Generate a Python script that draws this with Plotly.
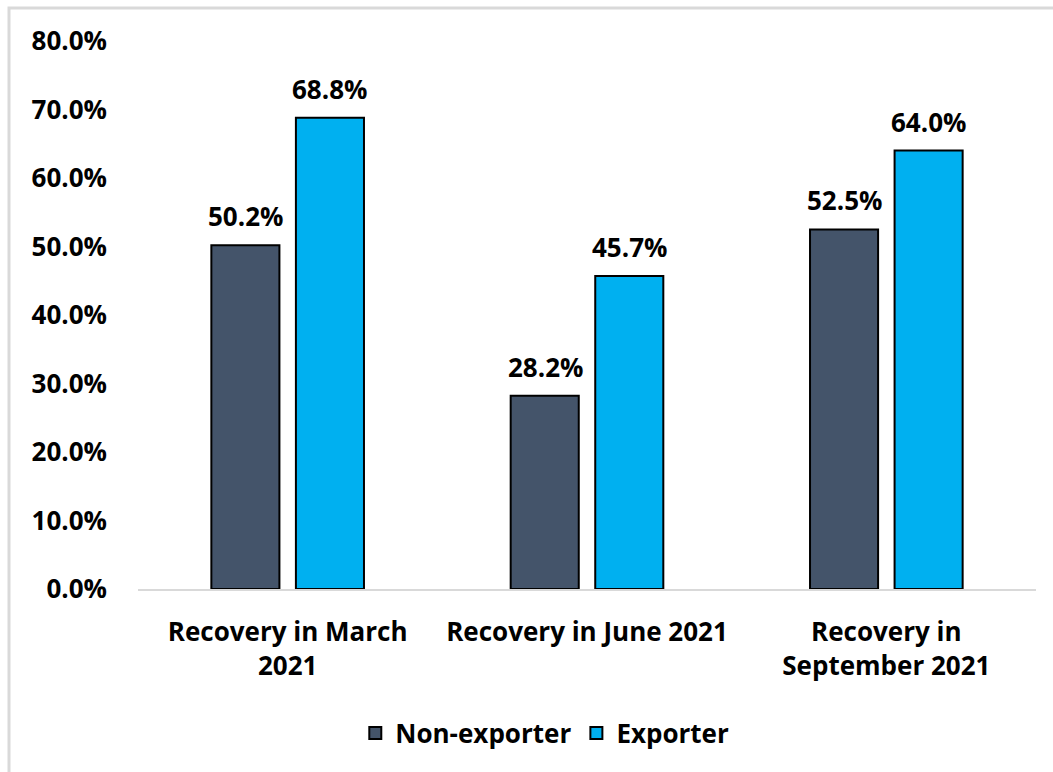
import plotly.graph_objects as go

categories = ["Recovery in March<br>2021", "Recovery in June 2021", "Recovery in<br>September 2021"]
non_exporter = [50.2, 28.2, 52.5]
exporter = [68.8, 45.7, 64.0]
tick_vals = [0, 10, 20, 30, 40, 50, 60, 70, 80]

FONT = "Open Sans"
SIZE = 26
font_bold = dict(family=FONT, size=SIZE, color="#000000")

# pixel offset of each bar in a group from the category centre
BAR_SHIFT = 42

fig = go.Figure()
fig.add_trace(go.Bar(
    name="<b>Non-exporter</b>", x=categories, y=non_exporter,
    marker=dict(color="#44546A", line=dict(color="#000000", width=2)),
))
fig.add_trace(go.Bar(
    name="<b>Exporter</b>", x=categories, y=exporter,
    marker=dict(color="#00B0F0", line=dict(color="#000000", width=2)),
))

# value labels sitting above each bar
annotations = []
for series, shift in ((non_exporter, -BAR_SHIFT), (exporter, BAR_SHIFT)):
    for cat, val in zip(categories, series):
        annotations.append(dict(
            x=cat, y=val, xref="x", yref="y", text=f"<b>{val:.1f}%</b>",
            showarrow=False, xshift=shift, yshift=9, yanchor="bottom",
            font=font_bold,
        ))

fig.update_layout(
    width=1053, height=772,
    margin=dict(l=138, r=17, t=41, b=183),
    paper_bgcolor="white", plot_bgcolor="white",
    barmode="group", bargap=0.435, bargroupgap=0.195,
    font=font_bold,
    showlegend=True,
    legend=dict(orientation="h", x=0.453, y=-0.263, xanchor="center", yanchor="middle",
                font=font_bold, itemsizing="constant", traceorder="normal"),
    xaxis=dict(showline=True, linecolor="#D9D9D9", linewidth=2, ticks="",
               tickvals=categories, ticktext=[f"<b>{c}</b>" for c in categories],
               tickfont=font_bold, ticklabelstandoff=19),
    yaxis=dict(range=[0, 80], tickvals=tick_vals,
               ticktext=[f"<b>{v:.1f}%</b>" for v in tick_vals],
               showgrid=False, zeroline=False, showline=False, ticks="",
               tickfont=font_bold, ticklabelstandoff=30),
    annotations=annotations,
    shapes=[dict(type="rect", xref="paper", yref="paper",
                 x0=-129/898, x1=1.2, y0=-0.6, y1=1 + 33/548,
                 line=dict(color="#D9D9D9", width=3), fillcolor="rgba(0,0,0,0)",
                 layer="below")],
)

fig.write_html("out.html")
